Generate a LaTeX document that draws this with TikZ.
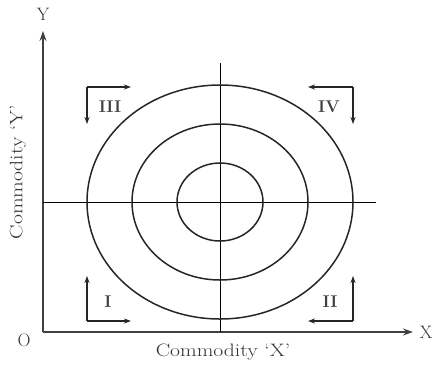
\documentclass[tikz,border=0pt]{standalone}
\usetikzlibrary{arrows.meta}
\begin{document}
\begin{tikzpicture}[x=1pt,y=-1pt,
  axis/.style={line width=1.6pt,draw=black!75,-{Stealth[length=10pt,width=7pt]}},
  curve/.style={line width=1.5pt,draw=black!85},
  guide/.style={line width=0.8pt,draw=black},
  corner/.style={line width=1.3pt,draw=black!85,-{Stealth[length=7pt,width=5pt]}},
  lbl/.style={font=\fontsize{18}{20}\selectfont,text=black!80,inner sep=0pt},
  rom/.style={font=\fontsize{17}{19}\selectfont\bfseries,text=black!75,inner sep=0pt}]
\useasboundingbox (0,0) rectangle (435,365);
% axes
\coordinate (O) at (43,332);
\coordinate (Ytip) at (43,31);
\coordinate (Xtip) at (413,332);
\draw[axis] (O) -- (Ytip);
\draw[axis] (O) -- (Xtip);
\node[lbl] (ylab) at (43,14) {Y};
\node[lbl] (xlab) at (426,332) {X};
\node[lbl] (olab) at (24,340) {O};
\node[lbl] (xname) at (223,352) {\scalebox{1.2}[1]{Commodity `X'}};
\node[lbl,rotate=90] (yname) at (18,172) {\scalebox{1.2}[1]{Commodity `Y'}};
% center and guide lines
\coordinate (C) at (220,202);
\coordinate (vtop) at (220,63);
\coordinate (vbot) at (220,332);
\coordinate (hl) at (43,202);
\coordinate (hr) at (376,202);
\draw[guide] (vtop) -- (vbot);
\draw[guide] (hl) -- (hr);
% ellipses
\draw[curve] (C) ellipse [x radius=133, y radius=117];
\draw[curve] (C) ellipse [x radius=88, y radius=78];
\draw[curve] (C) ellipse [x radius=43, y radius=39];
% III
\coordinate (c3) at (87,87);
\coordinate (c3r) at (131,87);
\coordinate (c3d) at (87,124);
\draw[corner] (c3) -- (c3r);
\draw[corner] (c3) -- (c3d);
\node[rom] (r3) at (110,107) {III};
% IV
\coordinate (c4) at (353,87);
\coordinate (c4l) at (308,87);
\coordinate (c4d) at (353,124);
\draw[corner] (c4) -- (c4l);
\draw[corner] (c4) -- (c4d);
\node[rom] (r4) at (329,107) {IV};
% I
\coordinate (c1) at (87,321);
\coordinate (c1u) at (87,276);
\coordinate (c1r) at (131,321);
\draw[corner] (c1) -- (c1u);
\draw[corner] (c1) -- (c1r);
\node[rom] (r1) at (108,302) {I};
% II
\coordinate (c2) at (353,321);
\coordinate (c2u) at (353,276);
\coordinate (c2l) at (308,321);
\draw[corner] (c2) -- (c2u);
\draw[corner] (c2) -- (c2l);
\node[rom] (r2) at (330,302) {II};
\end{tikzpicture}
\end{document}
